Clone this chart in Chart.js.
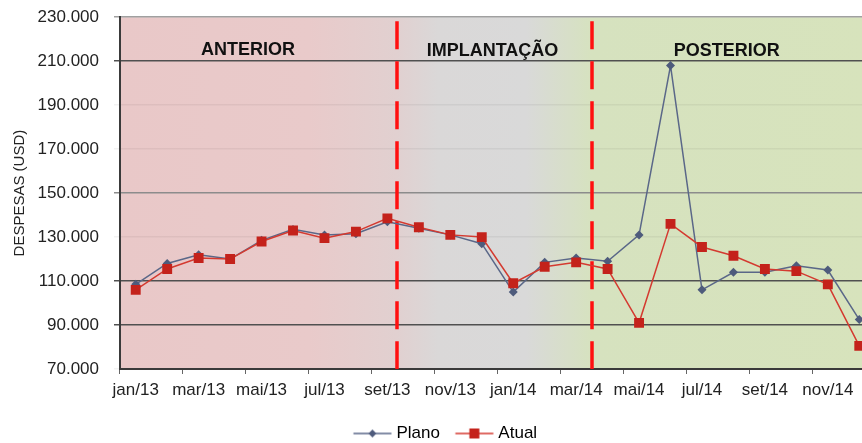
<!DOCTYPE html>
<html>
<head>
<meta charset="utf-8">
<script src="https://cdn.jsdelivr.net/npm/chart.js@4.4.1/dist/chart.umd.min.js"></script>
<style>
  html, body { margin: 0; padding: 0; background: #fff; overflow: hidden; }
  #chart { display: block; margin-top: -8px; }
</style>
</head>
<body>
<canvas id="chart" width="887" height="451"></canvas>
<script>
// monthly expenses, jan/13 .. dez/14
const months = ['jan/13', 'fev/13', 'mar/13', 'abr/13', 'mai/13', 'jun/13', 'jul/13', 'ago/13', 'set/13', 'out/13', 'nov/13', 'dez/13',
                'jan/14', 'fev/14', 'mar/14', 'abr/14', 'mai/14', 'jun/14', 'jul/14', 'ago/14', 'set/14', 'out/14', 'nov/14', 'dez/14'];
const plano = [108500, 118000, 122000, 120000, 128500, 133500, 131000, 131500, 137000, 134000, 131000, 127000,
               105000, 118500, 120500, 119000, 131000, 208000, 106000, 114000, 114000, 117000, 115000, 92500];
const atual = [106000, 115500, 120500, 120000, 128000, 133000, 129500, 132500, 138500, 134500, 131000, 130000,
               109000, 116500, 118500, 115500, 91000, 136000, 125500, 121500, 115500, 114500, 108500, 80500];
const yMin = 70000;
const yMax = 230000;
const yStep = 20000;
const phases = ['ANTERIOR', 'IMPLANTAÇÃO', 'POSTERIOR'];

const FONT = 'Liberation Sans, Arial, sans-serif';
const PLANO_COLOR = '#4e5b7c';
const ATUAL_COLOR = '#c4221b';

function fmt(v) {
  return String(v).replace(/\B(?=(\d{3})+(?!\d))/g, '.');
}

// legend symbol: short line with the marker in the middle
function legendSymbol(color, lineColor, shape) {
  const c = document.createElement('canvas');
  c.width = 48; c.height = 14;
  const g = c.getContext('2d');
  g.strokeStyle = lineColor;
  g.lineWidth = 1.5;
  g.beginPath(); g.moveTo(8.5, 7); g.lineTo(46.5, 7); g.stroke();
  g.fillStyle = color;
  g.beginPath();
  if (shape === 'rect') {
    g.rect(27.5 - 5, 2, 10, 10);
  } else {
    g.moveTo(27.5, 3); g.lineTo(31.5, 7); g.lineTo(27.5, 11); g.lineTo(23.5, 7); g.closePath();
  }
  g.fill();
  return c;
}

const phasePlugin = {
  id: 'phases',
  beforeDraw(chart, args, opts) {
    const {ctx, chartArea} = chart;
    const x = chart.scales.x;
    const grad = ctx.createLinearGradient(chartArea.left, 0, chartArea.right, 0);
    const w = chartArea.right - chartArea.left;
    opts.stops.forEach(s => {
      const px = s[0] === null ? chartArea.right : x.getPixelForValue(s[0]);
      grad.addColorStop(Math.min(1, Math.max(0, (px - chartArea.left) / w)), s[1]);
    });
    ctx.save();
    ctx.fillStyle = grad;
    ctx.fillRect(chartArea.left, chartArea.top, w, chartArea.bottom - chartArea.top);
    ctx.restore();
  },
  beforeDatasetsDraw(chart, args, opts) {
    const {ctx, chartArea} = chart;
    const x = chart.scales.x;
    ctx.save();
    ctx.strokeStyle = '#ff1010';
    ctx.lineWidth = 3.5;
    ctx.setLineDash([28, 12]);
    opts.dividers.forEach(d => {
      const px = Math.round(x.getPixelForValue(d));
      ctx.beginPath();
      ctx.moveTo(px, chartArea.top + 4);
      ctx.lineTo(px, chartArea.bottom);
      ctx.stroke();
    });
    ctx.setLineDash([]);
    ctx.fillStyle = '#111';
    ctx.font = 'bold 18px ' + FONT;
    ctx.textAlign = 'center';
    ctx.textBaseline = 'middle';
    phases.forEach((name, i) => {
      ctx.fillText(name, x.getPixelForValue(opts.labelPos[i]), chartArea.top + opts.labelY[i]);
    });
    ctx.restore();
  }
};

function gridColor(ctx) {
  const v = ctx.tick && ctx.tick.value;
  if (v === 90000 || v === 110000 || v === 210000) return '#505050';
  if (v === 150000) return '#8c8c8c';
  if (v === 230000) return '#a0a0a0';
  return 'rgba(0,0,0,0.05)';
}

new Chart(document.getElementById('chart'), {
  type: 'line',
  data: {
    labels: months,
    datasets: [
      {
        label: 'Plano',
        data: plano,
        order: 1,
        borderColor: '#5a6788',
        borderWidth: 1.5,
        backgroundColor: PLANO_COLOR,
        pointStyle: 'rectRot',
        pointRadius: 4.5,
        pointBorderWidth: 0,
        pointBackgroundColor: PLANO_COLOR,
        tension: 0
      },
      {
        label: 'Atual',
        data: atual,
        order: 0,
        borderColor: '#d43a30',
        borderWidth: 1.5,
        backgroundColor: ATUAL_COLOR,
        pointStyle: 'rect',
        pointRadius: 7,
        pointBorderWidth: 0,
        pointBackgroundColor: ATUAL_COLOR,
        tension: 0
      }
    ]
  },
  options: {
    responsive: false,
    animation: false,
    layout: { padding: { top: 8, left: 0, right: 0, bottom: -9 } },
    scales: {
      x: {
        offset: true,
        grid: {
          offset: true,
          drawOnChartArea: false,
          tickLength: 5,
          tickColor: ctx => ctx.index % 2 === 0 ? '#666' : 'rgba(0,0,0,0)'
        },
        border: { color: '#3a3a3a', width: 2 },
        ticks: {
          autoSkip: false,
          maxRotation: 0,
          padding: 6,
          color: '#222',
          font: { family: FONT, size: 17 },
          callback: (v, i) => i % 2 === 0 ? months[i] : ''
        },
        afterFit(scale) { scale.height = 44; }
      },
      y: {
        min: yMin,
        max: yMax,
        ticks: {
          stepSize: yStep,
          padding: 15,
          color: '#222',
          font: { family: FONT, size: 17 },
          callback: v => fmt(v)
        },
        grid: { color: gridColor, lineWidth: 1.5, tickLength: 6 },
        border: { color: '#3a3a3a', width: 2 },
        title: {
          display: true,
          text: 'DESPESAS (USD)',
          color: '#222',
          font: { family: FONT, size: 15 },
          padding: { top: 11, bottom: 0 }
        },
        afterFit(scale) { scale.width = 120; }
      },
      pad: {
        position: 'right',
        display: true,
        grid: { display: false },
        border: { display: false },
        ticks: { display: false },
        afterFit(scale) { scale.width = 12; }
      }
    },
    plugins: {
      tooltip: { enabled: false },
      legend: {
        position: 'bottom',
        labels: {
          usePointStyle: true,
          pointStyleWidth: 38,
          padding: 12,
          color: '#222',
          font: { family: FONT, size: 17 },
          generateLabels: () => [
            { text: 'Plano', pointStyle: legendSymbol(PLANO_COLOR, '#5a6788', 'diamond'), fillStyle: PLANO_COLOR, strokeStyle: PLANO_COLOR, lineWidth: 0, datasetIndex: 0, hidden: false },
            { text: 'Atual', pointStyle: legendSymbol(ATUAL_COLOR, '#d43a30', 'rect'), fillStyle: ATUAL_COLOR, strokeStyle: ATUAL_COLOR, lineWidth: 0, datasetIndex: 1, hidden: false }
          ]
        }
      },
      phases: {
        dividers: [8.3, 14.5],
        labelPos: [3.57, 11.34, 18.79],
        labelY: [32.5, 34, 34],
        stops: [
          [-0.5, '#e9c8c8'],
          [5.5, '#e9caca'],
          [8.3, '#e1d0d0'],
          [9.6, '#dad8d8'],
          [12.4, '#d9d9d9'],
          [14.5, '#d6e2bf'],
          [null, '#d7e3bc']
        ]
      }
    }
  },
  plugins: [phasePlugin]
});
</script>
</body>
</html>
